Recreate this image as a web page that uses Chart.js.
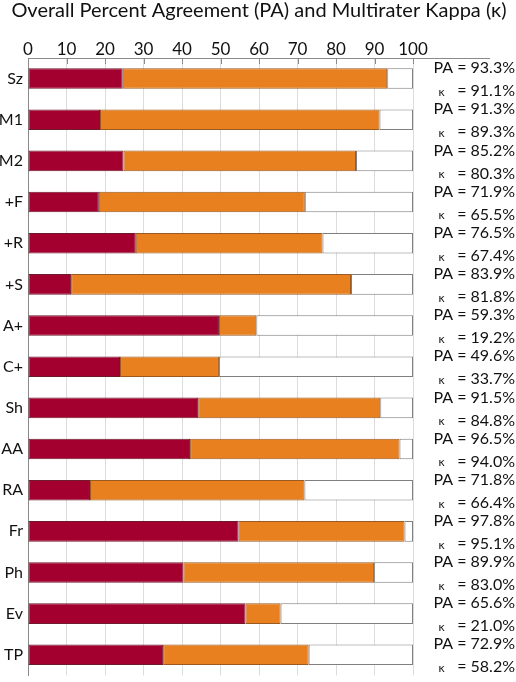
<!DOCTYPE html>
<html>
<head>
<meta charset="utf-8">
<script src="https://cdn.jsdelivr.net/npm/chart.js@4"></script>
<style>
  html, body { margin: 0; padding: 0; background: #fff; overflow: hidden; }
  #wrap { width: 516px; height: 690px; }
</style>
</head>
<body>
<div id="wrap"><canvas id="chart" width="516" height="690"></canvas></div>
<script>
// données
const categories = ['Sz', 'M1', 'M2', '+F', '+R', '+S', 'A+', 'C+', 'Sh', 'AA', 'RA', 'Fr', 'Ph', 'Ev', 'TP'];
const redEnd = [24.6, 18.7, 24.8, 18.4, 28.0, 11.2, 49.6, 23.9, 44.2, 42.1, 16.1, 54.7, 40.4, 56.5, 35.1];
const paValues = [93.3, 91.3, 85.2, 71.9, 76.5, 83.9, 59.3, 49.6, 91.5, 96.5, 71.8, 97.8, 89.9, 65.6, 72.9];
const kappaValues = [91.1, 89.3, 80.3, 65.5, 67.4, 81.8, 19.2, 33.7, 84.8, 94.0, 66.4, 95.1, 83.0, 21.0, 58.2];
const xTicks = [0, 10, 20, 30, 40, 50, 60, 70, 80, 90, 100];
const titleText = 'Overall Percent Agreement (PA) and Multirater Kappa (κ)';

const FONT = 'Lato, "Open Sans", sans-serif';
const edge = '#7f7f7f';

// petites marques vers l'intérieur + ligne d'axe du haut
const axisMarks = {
    id: 'axisMarks',
    afterDatasetsDraw(chart) {
        const { ctx, chartArea, scales } = chart;
        ctx.save();
        ctx.strokeStyle = '#8a8a8a';
        ctx.lineWidth = 1;
        ctx.beginPath();
        ctx.moveTo(chartArea.left, chartArea.top + 0.5);
        ctx.lineTo(chartArea.right + 77, chartArea.top + 0.5);
        xTicks.forEach(v => {
            const x = Math.round(scales.x.getPixelForValue(v)) + 0.5;
            ctx.moveTo(x, chartArea.top);
            ctx.lineTo(x, chartArea.top + 6);
        });
        ctx.stroke();
        ctx.restore();
    }
};

// titre + textes PA / kappa à droite
const sideText = {
    id: 'sideText',
    afterDraw(chart) {
        const { ctx, scales } = chart;
        const xr = 515;
        ctx.save();
        ctx.fillStyle = '#111';
        ctx.textBaseline = 'middle';

        ctx.font = '20px ' + FONT;
        ctx.textAlign = 'center';
        ctx.fillText(titleText, 259, 11);

        categories.forEach((c, i) => {
            const y = scales.y.getPixelForValue(i);
            ctx.font = '16px ' + FONT;
            const paTxt = '= ' + paValues[i].toFixed(1) + '%';
            const kTxt = '= ' + kappaValues[i].toFixed(1) + '%';
            ctx.textAlign = 'right';
            ctx.fillText(paTxt, xr, y - 10.5);
            const w = ctx.measureText(paTxt).width;
            ctx.fillText('PA ', xr - w, y - 10.5);
            const wPA = ctx.measureText('PA ').width;
            ctx.fillText(kTxt, xr, y + 12.5);
            ctx.font = '12px ' + FONT;
            ctx.textAlign = 'center';
            ctx.fillText('κ', xr - w - wPA + 8, y + 13.5);
        });
        ctx.restore();
    }
};

const ctx = document.getElementById('chart').getContext('2d');
const chart = new Chart(ctx, {
    type: 'bar',
    data: {
        labels: categories,
        datasets: [
            {
                data: redEnd.map(v => [0, v]),
                backgroundColor: '#A3002F',
                borderColor: '#6e1a2c'
            },
            {
                data: redEnd.map((v, i) => [v, paValues[i]]),
                backgroundColor: '#E8801F',
                borderColor: '#9a5a22'
            },
            {
                data: paValues.map(v => [v, 100]),
                backgroundColor: '#ffffff',
                borderColor: edge
            }
        ]
    },
    options: {
        indexAxis: 'y',
        responsive: false,
        animation: false,
        layout: { padding: { left: 0, right: 103, top: 29.2, bottom: 6 } },
        datasets: {
            bar: {
                grouped: false,
                categoryPercentage: 1,
                barPercentage: 0.5,
                borderWidth: 1,
                borderSkipped: false
            }
        },
        plugins: {
            legend: { display: false },
            tooltip: { enabled: false },
            title: { display: false }
        },
        scales: {
            x: {
                position: 'top',
                min: 0,
                max: 100,
                afterFit(s) { s.height = 28.8; },
                afterBuildTicks(s) { s.ticks = xTicks.map(v => ({ value: v })); },
                grid: { color: '#dcdcdc', drawTicks: false },
                border: { display: false },
                ticks: {
                    color: '#111',
                    padding: 0,
                    font: { family: FONT, size: 17, lineHeight: 1 }
                }
            },
            y: {
                afterFit(s) { s.width = 28; },
                grid: { display: false, drawTicks: false },
                border: { display: true, color: '#8a8a8a' },
                ticks: {
                    color: '#111',
                    padding: 5,
                    font: { family: FONT, size: 16 }
                }
            }
        }
    },
    plugins: [axisMarks, sideText]
});
</script>
</body>
</html>
